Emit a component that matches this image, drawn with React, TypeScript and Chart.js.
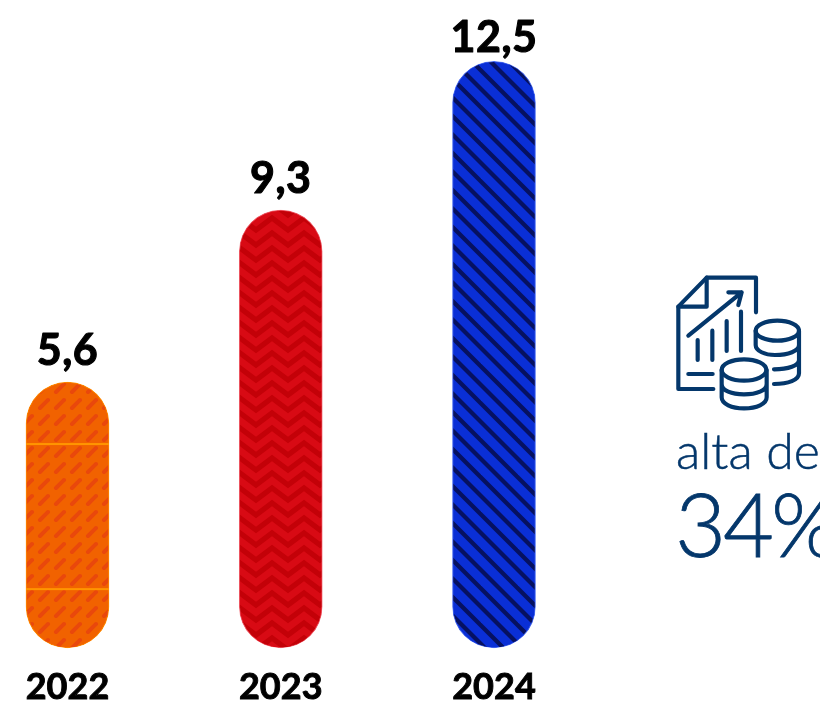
import React, { useEffect, useRef } from "react";
import { Chart, registerables } from "chart.js";

Chart.register(...registerables);

const categories = ["2022", "2023", "2024"];
const values = [5.6, 9.3, 12.5];
const separators = [4.27, 1.15];
const FONT = "Lato";

function makeOrange(): CanvasPattern {
  const c = document.createElement("canvas");
  c.width = 16; c.height = 16;
  const g = c.getContext("2d")!;
  g.fillStyle = "#f16200";
  g.fillRect(0, 0, 16, 16);
  g.strokeStyle = "#e9480c";
  g.lineWidth = 4;
  g.lineCap = "round";
  for (const [dx, dy] of [[0, 0], [-16, 0], [0, 16], [-16, 16]]) {
    g.beginPath();
    g.moveTo(8 + dx, 8 + dy);
    g.lineTo(16 + dx, 0 + dy);
    g.stroke();
  }
  return g.createPattern(c, "repeat")!;
}

function makeRed(): CanvasPattern {
  const c = document.createElement("canvas");
  c.width = 32; c.height = 15;
  const g = c.getContext("2d")!;
  g.fillStyle = "#d80a14";
  g.fillRect(0, 0, 32, 15);
  g.strokeStyle = "#c30108";
  g.lineWidth = 5.2;
  for (const dy of [-30, -15, 0, 15]) {
    g.beginPath();
    g.moveTo(-16, 8 + dy);
    g.lineTo(0, 20 + dy);
    g.lineTo(16, 8 + dy);
    g.lineTo(32, 20 + dy);
    g.lineTo(48, 8 + dy);
    g.stroke();
  }
  return g.createPattern(c, "repeat")!;
}

function makeBlue(): CanvasPattern {
  const c = document.createElement("canvas");
  c.width = 37; c.height = 37;
  const g = c.getContext("2d")!;
  g.fillStyle = "#0a2fd6";
  g.fillRect(0, 0, 37, 37);
  g.strokeStyle = "#061160";
  g.lineWidth = 4.2;
  for (let k = -3; k <= 3; k++) {
    const d = 3.5 + k * 18.5;
    g.beginPath();
    g.moveTo(d - 5, -5);
    g.lineTo(d + 42, 42);
    g.stroke();
  }
  return g.createPattern(c, "repeat")!;
}

const annotate = {
  id: "annotate",
  afterDatasetsDraw(chart: any) {
    const { ctx, scales } = chart;
    const meta = chart.getDatasetMeta(0);
    ctx.save();
    ctx.fillStyle = "#000";
    ctx.strokeStyle = "#000";
    ctx.lineWidth = 1.1;
    ctx.lineJoin = "round";
    ctx.font = `700 43px ${FONT}`;
    ctx.textAlign = "center";
    ctx.textBaseline = "alphabetic";
    (ctx as any).letterSpacing = "0.5px";
    meta.data.forEach((bar: any, i: number) => {
      const label = String(values[i]).replace(".", ",");
      const y = Math.max(bar.y - 17, 52);
      ctx.fillText(label, bar.x, y);
      ctx.strokeText(label, bar.x, y);
    });
    const first = meta.data[0];
    ctx.fillStyle = "#ff9500";
    separators.forEach((v) => {
      const y = scales.y.getPixelForValue(v);
      ctx.fillRect(first.x - first.width / 2, y - 1, first.width, 2);
    });
    ctx.restore();
  },
};

export default function App() {
  const ref = useRef<HTMLCanvasElement>(null);
  useEffect(() => {
    const chart = new Chart(ref.current!, {
      type: "bar",
      data: {
        labels: categories,
        datasets: [
          {
            data: values,
            base: -0.115,
            clip: false,
            backgroundColor: [makeOrange(), makeRed(), makeBlue()],
            borderColor: ["#ff8a00", "#ee5a66", "#4a6cf0"],
            borderWidth: 1,
            borderSkipped: false,
            borderRadius: 41.5,
            barThickness: 83,
          } as any,
        ],
      },
      plugins: [annotate],
      options: {
        animation: false,
        responsive: false,
        layout: { padding: { left: 67.5, right: 326, top: 38.1, bottom: 0 } },
        plugins: { legend: { display: false }, tooltip: { enabled: false } },
        scales: {
          x: {
            type: "category",
            offset: false,
            grid: { display: false, drawTicks: false },
            border: { display: false },
            afterFit: (s: any) => { s.height = 58.4; },
            ticks: {
              autoSkip: false,
              maxRotation: 0,
              padding: 23,
              color: "#000",
              textStrokeColor: "#000",
              textStrokeWidth: 0.9,
              font: { family: FONT, weight: "bold", size: 36 },
            },
          },
          y: { display: false, min: 0, max: 13 },
        },
      },
    });
    return () => chart.destroy();
  }, []);

  const navy = "#04376b";
  return (
    <div style={{ position: "fixed", left: 0, top: 0, width: 820, height: 701, overflow: "hidden", background: "#fff" }}>
      <canvas ref={ref} width={820} height={701} style={{ display: "block" }} />
      <svg
        viewBox="0 0 480 480"
        width={160}
        height={160}
        style={{ position: "absolute", left: 660, top: 265 }}
        fill="none"
        stroke={navy}
        strokeWidth={12.5}
        strokeLinecap="round"
        strokeLinejoin="round"
      >
        <path d="M160 372H55V125L140 38H288V142" />
        <path d="M140 38V125H55" />
        <path d="M85 212L245 82M205 82H245L235 120" />
        <path d="M113 225V285M157 197V285M200 168V258M243 140V258" />
        <path d="M85 327H158" />
        <ellipse cx="352" cy="197" rx="65" ry="30" />
        <path d="M287 197V240C287 258 315 270 345 270C385 270 417 258 417 240M417 197V325C417 345 385 357 342 357M417 285C417 302 385 313 342 313" />
        <ellipse cx="252" cy="315" rx="67" ry="32" />
        <path d="M185 315V397C185 417 215 430 252 430C290 430 320 417 320 397V315M185 357C185 377 215 388 252 388C290 388 320 377 320 357" />
      </svg>
      <div style={{ position: "absolute", left: 676, top: 420, font: `300 50px ${FONT}`, color: navy, whiteSpace: "nowrap", lineHeight: "60px", WebkitTextStroke: `0.5px ${navy}` }}>alta de</div>
      <div style={{ position: "absolute", left: 675, top: 473, font: `300 88px ${FONT}`, letterSpacing: "-3px", color: navy, whiteSpace: "nowrap", lineHeight: "100px", WebkitTextStroke: `0.8px ${navy}` }}>34%</div>
    </div>
  );
}
